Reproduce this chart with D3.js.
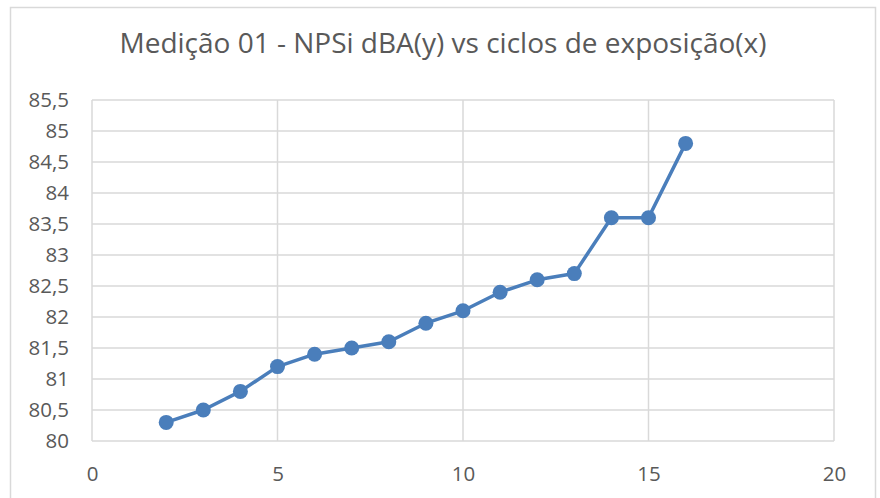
<!DOCTYPE html>
<html>
<head>
<meta charset="utf-8">
<script src="https://cdn.jsdelivr.net/npm/d3@7"></script>
<style>
  body { margin: 0; background: #fff; }
  svg { display: block; }
</style>
</head>
<body>
<div id="chart"></div>
<script>
const ciclos = [2, 3, 4, 5, 6, 7, 8, 9, 10, 11, 12, 13, 14, 15, 16]
const npsi = [80.3, 80.5, 80.8, 81.2, 81.4, 81.5, 81.6, 81.9, 82.1, 82.4, 82.6, 82.7, 83.6, 83.6, 84.8]
const xTicks = [0, 5, 10, 15, 20]
const yTicks = [80, 80.5, 81, 81.5, 82, 82.5, 83, 83.5, 84, 84.5, 85, 85.5]

const data = ciclos.map((c, i) => ({ x: c, y: npsi[i] }))

const W = 880
const H = 498
const margin = { top: 100, right: 46, bottom: 57, left: 92 }
const width = W - margin.left - margin.right
const height = H - margin.top - margin.bottom
const font = '"Open Sans", sans-serif'

const svg = d3.select('#chart')
  .append('svg')
  .attr('width', W)
  .attr('height', H)

// chart border
svg.append('rect')
  .attr('x', 10.5)
  .attr('y', 7.5)
  .attr('width', 865)
  .attr('height', 500)
  .attr('fill', 'none')
  .attr('stroke', '#d9d9d9')
  .attr('stroke-width', 1.5)

svg.append('text')
  .attr('x', 443)
  .attr('y', 53)
  .attr('text-anchor', 'middle')
  .attr('font-family', font)
  .attr('font-size', 28)
  .attr('fill', '#595959')
  .text('Medição 01 - NPSi dBA(y) vs ciclos de exposição(x)')

const g = svg.append('g')
  .attr('transform', `translate(${margin.left},${margin.top})`)

const x = d3.scaleLinear().domain([0, 20]).range([0, width])
const y = d3.scaleLinear().domain([80, 85.5]).range([height, 0])

// grid
g.append('g')
  .selectAll('line')
  .data(yTicks)
  .enter().append('line')
  .attr('x1', 0)
  .attr('x2', width)
  .attr('y1', d => y(d))
  .attr('y2', d => y(d))
  .attr('stroke', '#d9d9d9')
  .attr('stroke-width', 1.5)

g.append('g')
  .selectAll('line')
  .data(xTicks)
  .enter().append('line')
  .attr('x1', d => x(d))
  .attr('x2', d => x(d))
  .attr('y1', 0)
  .attr('y2', height)
  .attr('stroke', '#d9d9d9')
  .attr('stroke-width', 1.5)

// axes
const xAxis = g.append('g')
  .attr('transform', `translate(0,${height})`)
  .call(d3.axisBottom(x).tickValues(xTicks).tickSize(0).tickPadding(25))
const yAxis = g.append('g')
  .call(d3.axisLeft(y).tickValues(yTicks).tickSize(0).tickPadding(23)
    .tickFormat(d => String(d).replace('.', ',')))

;[xAxis, yAxis].forEach(a => {
  a.select('.domain').remove()
  a.selectAll('text')
    .attr('font-family', font)
    .attr('font-size', 20.5)
    .attr('fill', '#595959')
})

// line + markers
const line = d3.line().x(d => x(d.x)).y(d => y(d.y))

g.append('path')
  .datum(data)
  .attr('d', line)
  .attr('fill', 'none')
  .attr('stroke', '#4a7ebb')
  .attr('stroke-width', 3.5)
  .attr('stroke-linejoin', 'round')

g.selectAll('.pt')
  .data(data)
  .enter().append('circle')
  .attr('class', 'pt')
  .attr('cx', d => x(d.x))
  .attr('cy', d => y(d.y))
  .attr('r', 7.5)
  .attr('fill', '#4a7ebb')
</script>
</body>
</html>
